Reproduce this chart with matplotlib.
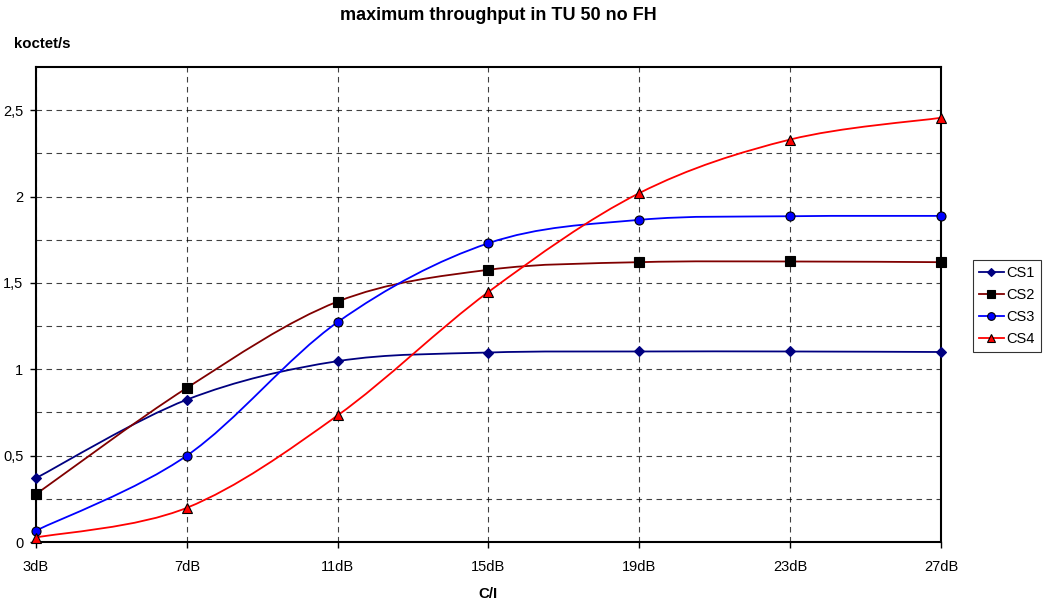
import numpy as np
import matplotlib.pyplot as plt
from matplotlib.path import Path
from matplotlib.patches import PathPatch
from matplotlib.lines import Line2D

plt.rcParams['font.family'] = ['Liberation Sans', 'DejaVu Sans']

categories = ['3dB', '7dB', '11dB', '15dB', '19dB', '23dB', '27dB']
cs1 = [0.37, 0.824, 1.047, 1.097, 1.103, 1.103, 1.10]
cs2 = [0.277, 0.892, 1.392, 1.576, 1.62, 1.624, 1.62]
cs3 = [0.066, 0.50, 1.273, 1.73, 1.865, 1.886, 1.888]
cs4 = [0.026, 0.198, 0.733, 1.448, 2.02, 2.33, 2.456]

series = [
    ('CS1', cs1, '#000080', 'D', '#000080', '#000080', 5),
    ('CS2', cs2, '#800000', 's', 'black', 'black', 6.5),
    ('CS3', cs3, '#0000FF', 'o', '#0000FF', 'black', 6.5),
    ('CS4', cs4, '#FF0000', '^', '#FF0000', 'black', 6.5),
]


def smooth_path(x, y):
    # excel-like smoothed line: bezier segments through the points
    p = np.column_stack([x, y]).astype(float)
    pp = np.vstack([p[0], p, p[-1]])
    verts = [p[0]]
    codes = [Path.MOVETO]
    for i in range(len(p) - 1):
        c1 = pp[i + 1] + (pp[i + 2] - pp[i]) / 6
        c2 = pp[i + 2] - (pp[i + 3] - pp[i + 1]) / 6
        verts += [c1, c2, pp[i + 2]]
        codes += [Path.CURVE4] * 3
    return Path(verts, codes)


fig = plt.figure(figsize=(10.49, 6.04), dpi=100)
ax = fig.add_axes([36 / 1049, 62 / 604, 905 / 1049, 475 / 604])

x = np.arange(len(categories))
handles = []
for name, vals, col, mk, mfc, mec, ms in series:
    ax.add_patch(PathPatch(smooth_path(x, vals), fill=False, edgecolor=col,
                           lw=1.3, zorder=3))
    ax.plot(x, vals, linestyle='none', marker=mk, markersize=ms,
            markerfacecolor=mfc, markeredgecolor=mec, markeredgewidth=0.8,
            zorder=4, clip_on=False)
    handles.append(Line2D([], [], color=col, lw=1.3, marker=mk,
                          markersize=ms * 0.85, markerfacecolor=mfc,
                          markeredgecolor=mec, markeredgewidth=0.8,
                          label=name))

ax.set_xlim(0, len(categories) - 1)
ax.set_ylim(0, 2.75)
ax.set_xticks(x)
ax.set_xticklabels(categories, fontsize=10.5)
ax.set_yticks([0, 0.5, 1, 1.5, 2, 2.5])
ax.set_yticklabels(['0', '0,5', '1', '1,5', '2', '2,5'], fontsize=10.5)
ax.set_yticks(np.arange(0.25, 2.75, 0.5), minor=True)
ax.tick_params(which='minor', length=0)
ax.tick_params(which='major', length=4, width=1, direction='out')
ax.tick_params(axis='x', which='major', pad=9)
ax.tick_params(axis='y', which='major', pad=5)
ax.grid(True, which='both', color='black', linestyle=(0, (5, 4)), lw=0.8,
        alpha=0.75)
ax.set_axisbelow(True)
for s in ax.spines.values():
    s.set_linewidth(1.5)
    s.set_color('black')

fig.text(498 / 1049, 1 - 15 / 604, 'maximum throughput in TU 50 no FH',
         ha='center', va='center', fontsize=13, fontweight='bold')
fig.text(14 / 1049, 1 - 44 / 604, 'koctet/s', ha='left', va='center',
         fontsize=10.8, fontweight='bold')
fig.text(488 / 1049, 1 - 594 / 604, 'C/I', ha='center', va='center',
         fontsize=10.8, fontweight='bold')

leg = fig.legend(handles=handles, loc='upper left',
                 bbox_to_anchor=(973 / 1049, 1 - 260 / 604), fontsize=10.5,
                 frameon=True, fancybox=False, edgecolor='black',
                 handlelength=1.7, borderpad=0.4, labelspacing=0.55,
                 handletextpad=0.2, borderaxespad=0)
leg.get_frame().set_linewidth(0.8)

fig.savefig('out.png', dpi=100)
